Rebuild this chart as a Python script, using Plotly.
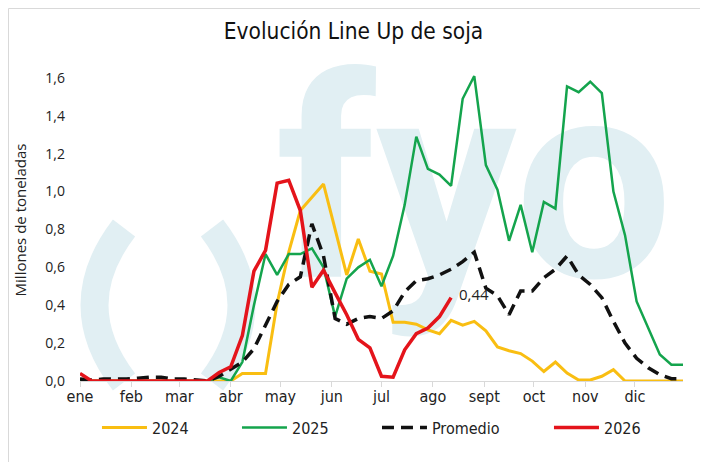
import pandas as pd
import plotly.graph_objects as go

# weekly line-up, millones de toneladas (53 semanas)
semanas = pd.date_range("2024-01-01", periods=53, freq="7D")

soja_2024 = [0.01, 0, 0, 0, 0, 0, 0, 0, 0, 0, 0, 0, 0, 0, 0.04, 0.04, 0.04, 0.41, 0.68, 0.90,
             0.97, 1.04, 0.80, 0.56, 0.75, 0.58, 0.565, 0.31, 0.31, 0.30, 0.27, 0.25, 0.32, 0.295,
             0.315, 0.265, 0.18, 0.16, 0.145, 0.105, 0.05, 0.10, 0.042, 0.005, 0.005, 0.025, 0.06,
             0, 0, 0, 0, 0, 0]
soja_2025 = [0, 0, 0, 0, 0, 0, 0, 0, 0, 0, 0, 0, 0.02, 0, 0.10, 0.40, 0.67, 0.56, 0.67, 0.67,
             0.70, 0.60, 0.34, 0.54, 0.60, 0.64, 0.50, 0.66, 0.93, 1.29, 1.12, 1.09, 1.03, 1.49,
             1.61, 1.14, 1.01, 0.74, 0.93, 0.68, 0.945, 0.91, 1.555, 1.525, 1.58, 1.52, 1.0, 0.77,
             0.42, 0.28, 0.14, 0.086, 0.086]
promedio = [0.01, 0.005, 0.01, 0.01, 0.01, 0.015, 0.02, 0.02, 0.01, 0.01, 0.005, 0, 0.025, 0.06,
            0.10, 0.17, 0.30, 0.42, 0.51, 0.55, 0.83, 0.66, 0.33, 0.30, 0.33, 0.34, 0.33, 0.37,
            0.47, 0.53, 0.54, 0.56, 0.59, 0.63, 0.68, 0.49, 0.45, 0.35, 0.475, 0.475, 0.545, 0.59,
            0.66, 0.56, 0.51, 0.44, 0.315, 0.20, 0.12, 0.07, 0.033, 0.012, 0.012]
soja_2026 = [0.04, 0, 0, 0, 0, 0, 0, 0, 0, 0, 0, 0, 0.045, 0.075, 0.24, 0.58, 0.69, 1.045, 1.06,
             0.90, 0.495, 0.585, 0.465, 0.35, 0.22, 0.175, 0.025, 0.02, 0.165, 0.25, 0.28, 0.34,
             0.44]

meses = ["ene", "feb", "mar", "abr", "may", "jun", "jul", "ago", "sept", "oct", "nov", "dic"]
inicio_mes = pd.date_range("2024-01-01", periods=12, freq="MS")

narrow = "DejaVu Sans Condensed, Lato, sans-serif"
humanist = "Open Sans"
marca_color = "#e1eff3"

# margins / plot box in px, used for the decoration in paper coords
W, H = 708, 462
L, R, T, B = 72, 33, 51, 89
pw, ph = W - L - R, H - T - B


def px(x, y):
    return (x - L) / pw, (H - B - y) / ph


def arco(x0, y0, xc, yc, x1, y1):
    a, b, c = px(x0, y0), px(xc, yc), px(x1, y1)
    return f"M {a[0]:.4f},{a[1]:.4f} Q {b[0]:.4f},{b[1]:.4f} {c[0]:.4f},{c[1]:.4f}"


fig = go.Figure()

# watermark "fyo"
fig.add_trace(go.Scatter(x=[pd.Timestamp("2024-08-26")], y=[0.92], text=["fyo"], mode="text",
                         textposition="middle center",
                         textfont=dict(family="Roboto", size=280, color=marca_color, weight="bold"),
                         hoverinfo="skip", showlegend=False))

fig.add_trace(go.Scatter(x=semanas, y=soja_2024, mode="lines", name="2024",
                         line=dict(color="#F9BE12", width=3), legendwidth=80))
fig.add_trace(go.Scatter(x=semanas, y=soja_2025, mode="lines", name="2025",
                         line=dict(color="#14A44D", width=2.5), legendwidth=80))
fig.add_trace(go.Scatter(x=semanas, y=promedio, mode="lines", name="Promedio",
                         line=dict(color="#111111", width=3.5, dash="12px,7px"), legendwidth=112))
fig.add_trace(go.Scatter(x=semanas[:len(soja_2026)], y=soja_2026, mode="lines", name="2026",
                         line=dict(color="#E4141B", width=3.5), legendwidth=45))

ult = soja_2026[-1]
fig.add_annotation(x=semanas[len(soja_2026) - 1], y=ult, text=f"{ult:.2f}".replace(".", ","),
                   showarrow=False, xanchor="left", yanchor="middle", xshift=6, yshift=4,
                   font=dict(family=humanist, size=15, color="#222222"))

# parentesis del logo
fig.add_shape(type="path", xref="paper", yref="paper", layer="below",
              path=arco(116, 220, 57, 297, 116, 374), line=dict(color=marca_color, width=28))
fig.add_shape(type="path", xref="paper", yref="paper", layer="below",
              path=arco(204, 220, 263, 297, 204, 374), line=dict(color=marca_color, width=28))

# borde del grafico
x0, y0 = px(0.5, 461.5)
x1, y1 = px(707.5, 0.5)
fig.add_shape(type="rect", xref="paper", yref="paper", x0=x0, x1=x1, y0=y0, y1=y1,
              line=dict(color="#d9d9d9", width=1))

fig.update_xaxes(range=[semanas[0], semanas[-1]], tickvals=inicio_mes, ticktext=meses,
                 showgrid=False, showline=True, linecolor="#d9d9d9", linewidth=1,
                 ticks="outside", ticklen=5, tickcolor="#d9d9d9", ticklabelstandoff=-4,
                 tickfont=dict(family=narrow, size=16, color="#222222"), zeroline=False)
fig.update_yaxes(range=[0, 1.7], tickvals=[0, 0.2, 0.4, 0.6, 0.8, 1.0, 1.2, 1.4, 1.6], tickformat=".1f",
                 showgrid=False, zeroline=False, showline=False, ticklabelstandoff=14,
                 tickfont=dict(family=humanist, size=14, color="#222222"),
                 title=dict(text="Millones de toneladas", font=dict(family=humanist, size=15, color="#222222")))

fig.update_layout(
    width=W, height=H,
    margin=dict(l=L, r=R, t=T, b=B),
    separators=",.",
    plot_bgcolor="white", paper_bgcolor="white",
    title=dict(text="Evolución Line Up de soja", x=0.488, xanchor="center", y=0.95, yanchor="middle",
               font=dict(family=narrow, size=22.5, color="#111111")),
    legend=dict(orientation="h", x=0.49, xanchor="center", y=-0.145, yanchor="middle",
                font=dict(family=narrow, size=16, color="#222222"), itemwidth=45,
                bgcolor="rgba(0,0,0,0)"),
    showlegend=True,
)

fig.write_html("out.html")
